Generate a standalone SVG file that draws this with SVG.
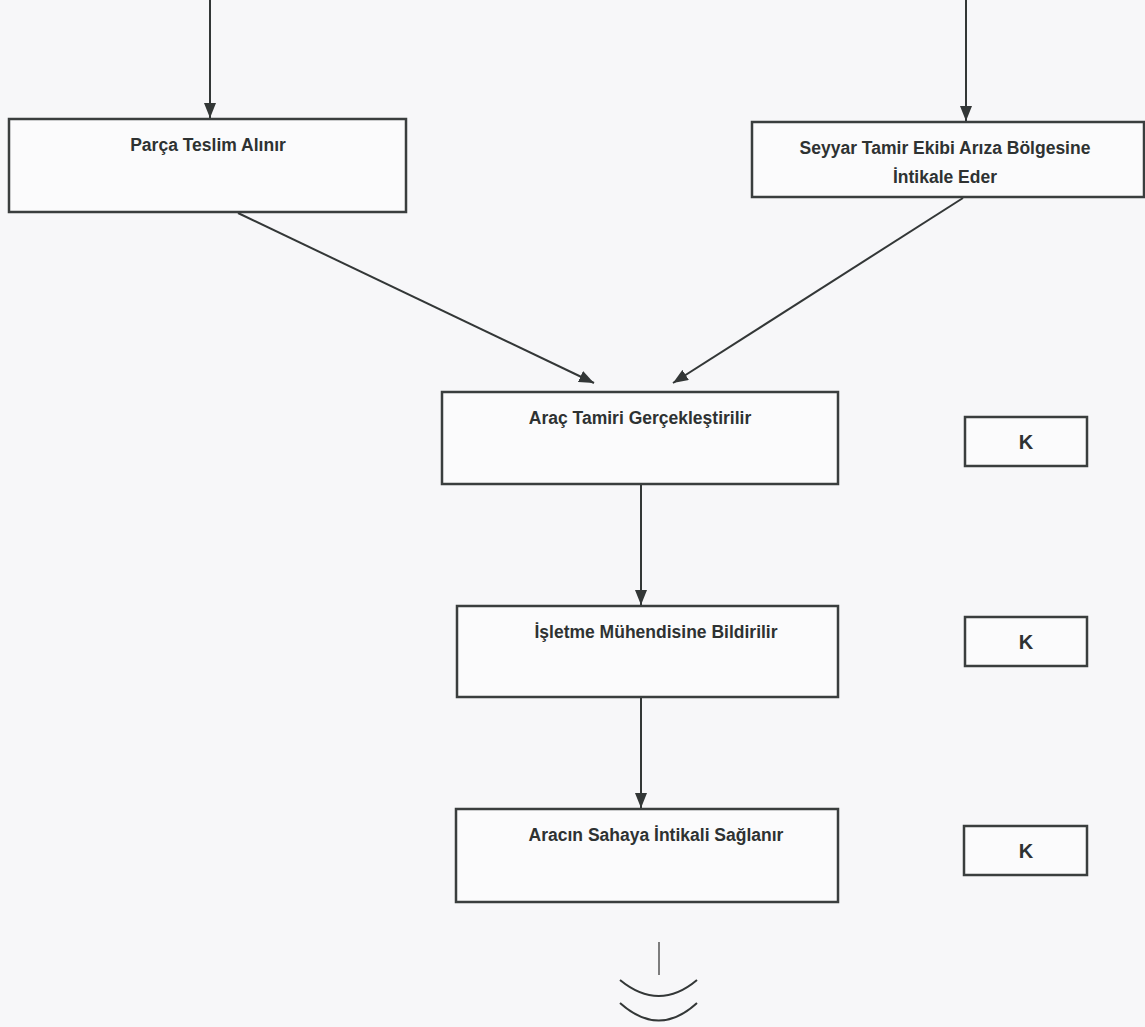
<svg xmlns="http://www.w3.org/2000/svg" width="1145" height="1027" viewBox="0 0 1145 1027">
<style>
.box{fill:#fbfbfc;stroke:#3a3e3e;stroke-width:2.5}
.t{font-family:"Liberation Sans",Arial,sans-serif;font-weight:bold;font-size:17.5px;fill:#2e3232;text-anchor:middle}
.k{font-family:"Liberation Sans",Arial,sans-serif;font-weight:bold;font-size:20px;fill:#2e3232;text-anchor:middle}
.c{stroke:#333737;stroke-width:2;fill:none}
</style>
<defs>
<marker id="a" viewBox="0 0 15 12" refX="15" refY="6" markerWidth="15" markerHeight="12" orient="auto" markerUnits="userSpaceOnUse">
<path d="M0,0 L15,6 L0,12 z" fill="#333737"/>
</marker>
</defs>
<rect width="1145" height="1027" fill="#f7f7f9"/>
<g id="connectors">
<line class="c" x1="210" y1="0" x2="210" y2="118" marker-end="url(#a)"/>
<line class="c" x1="966" y1="0" x2="966" y2="121" marker-end="url(#a)"/>
<line class="c" x1="238" y1="213" x2="594" y2="383" marker-end="url(#a)"/>
<line class="c" x1="963" y1="198" x2="673" y2="383" marker-end="url(#a)"/>
<line class="c" x1="641" y1="485" x2="641" y2="605" marker-end="url(#a)"/>
<line class="c" x1="641" y1="698" x2="641" y2="808" marker-end="url(#a)"/>
<line x1="659" y1="942" x2="659" y2="975" stroke="#555" stroke-width="1.5"/>
<path class="c" d="M620,980 Q659,1012 697,980"/>
<path class="c" d="M620,1003 Q659,1038 697,1003"/>
</g>
<g id="n1">
<rect class="box" x="9" y="119" width="397" height="93"/>
<text class="t" x="208" y="151">Parça Teslim Alınır</text>
</g>
<g id="n2">
<rect class="box" x="752" y="122" width="392" height="75"/>
<text class="t" x="945" y="154">Seyyar Tamir Ekibi Arıza Bölgesine</text>
<text class="t" x="945" y="183">İntikale Eder</text>
</g>
<g id="n3">
<rect class="box" x="442" y="392" width="396" height="92"/>
<text class="t" x="640" y="424">Araç Tamiri Gerçekleştirilir</text>
</g>
<g id="n4">
<rect class="box" x="457" y="606" width="381" height="91"/>
<text class="t" x="656" y="638">İşletme Mühendisine Bildirilir</text>
</g>
<g id="n5">
<rect class="box" x="456" y="809" width="382" height="93"/>
<text class="t" x="656" y="841">Aracın Sahaya  İntikali Sağlanır</text>
</g>
<g id="k1">
<rect class="box" x="965" y="417" width="122" height="49"/>
<text class="k" x="1026" y="449">K</text>
</g>
<g id="k2">
<rect class="box" x="965" y="617" width="122" height="49"/>
<text class="k" x="1026" y="649">K</text>
</g>
<g id="k3">
<rect class="box" x="964" y="826" width="123" height="49"/>
<text class="k" x="1026" y="858">K</text>
</g>
</svg>
